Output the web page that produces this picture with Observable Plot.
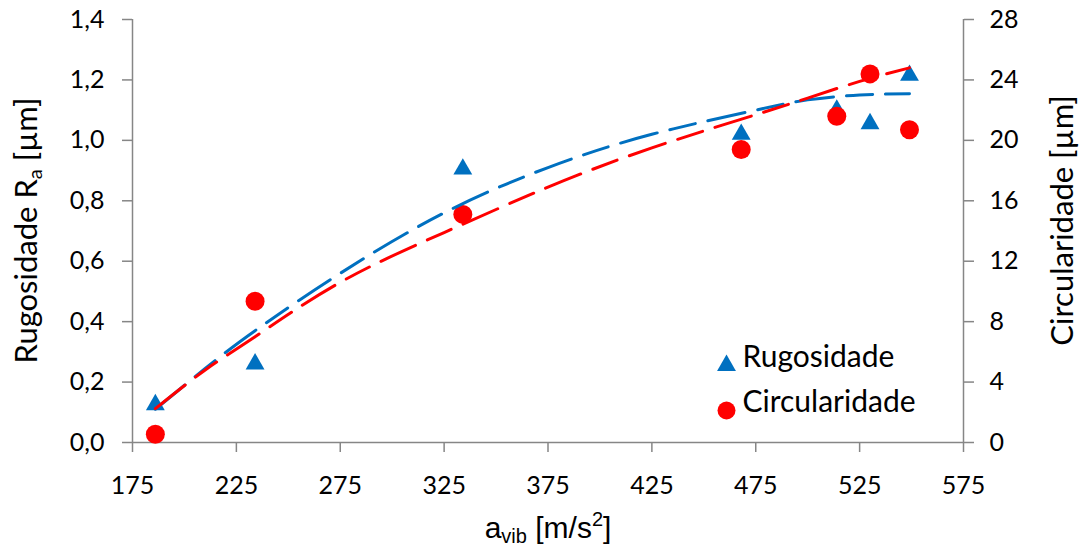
<!DOCTYPE html>
<html>
<head>
<meta charset="utf-8">
<script src="https://cdn.jsdelivr.net/npm/d3@7"></script>
<script src="https://cdn.jsdelivr.net/npm/@observablehq/plot@0.6"></script>
<style>
  html, body { margin: 0; padding: 0; background: #fff; }
  #chart svg { display: block; }
</style>
</head>
<body>
<div id="chart"></div>
<script>
// ---- data ----
const aVib = [186, 234, 334, 468, 514, 530, 549];
const rugosidade = [0.125, 0.26, 0.905, 1.02, 1.10, 1.055, 1.215];      // µm (left axis)
const circularidade = [0.55, 9.35, 15.1, 19.4, 21.6, 24.4, 20.7];       // µm (right axis)
const trendX = [186, 210, 234, 275, 325, 375, 425, 475, 500, 525, 549];
const trendRugosidade = [0.11, 0.245, 0.37, 0.56, 0.76, 0.91, 1.02, 1.10, 1.134, 1.15, 1.154];
const trendCircularidade = [2.24, 4.8, 7.0, 10.6, 13.9, 16.9, 19.5, 21.7, 22.8, 23.9, 24.8];
const xTicks = [175, 225, 275, 325, 375, 425, 475, 525, 575];
const leftTicks = [0, 0.2, 0.4, 0.6, 0.8, 1.0, 1.2, 1.4];
const rightTicks = [0, 4, 8, 12, 16, 20, 24, 28];
const seriesNames = ["Rugosidade", "Circularidade"];

const ratio = 28 / 1.4; // right axis / left axis
const blue = "#0070C0", red = "#FF0000", axisGray = "#868686";

const pts = aVib.map((x, i) => ({x, rug: rugosidade[i], circ: circularidade[i]}));
const trend = trendX.map((x, i) => ({x, rug: trendRugosidade[i], circ: trendCircularidade[i]}));

const W = 1085, H = 549;
const mL = 132, mR = 122, mT = 19, mB = 107;

const chart = Plot.plot({
  width: W, height: H,
  marginLeft: mL, marginRight: mR, marginTop: mT, marginBottom: mB,
  style: {fontFamily: "Lato, 'Open Sans', sans-serif", fontSize: "25px", color: "#000", background: "#fff"},
  x: {domain: [175, 575], label: null},
  y: {domain: [0, 1.4], label: null},
  marks: [
    Plot.ruleX([175, 575], {stroke: axisGray, strokeWidth: 1.5}),
    Plot.ruleY([0], {stroke: axisGray, strokeWidth: 1.5}),
    Plot.axisX(xTicks, {tickSize: 10, tickPadding: 24, stroke: axisGray, strokeWidth: 1.5, fill: "#000", label: null, tickFormat: d => String(d)}),
    Plot.axisY(leftTicks, {anchor: "left", tickSize: 10, tickPadding: 18, stroke: axisGray, strokeWidth: 1.5, fill: "#000", label: null,
      tickFormat: d => d.toFixed(1).replace(".", ",")}),
    Plot.axisY(rightTicks.map(d => d / ratio), {anchor: "right", tickSize: 10, tickPadding: 16, stroke: axisGray, strokeWidth: 1.5, fill: "#000", label: null,
      tickFormat: d => String(Math.round(d * ratio))}),
    Plot.dot(pts, {x: "x", y: "rug", symbol: "triangle", r: 7, fill: blue, stroke: null}),
    Plot.dot(pts, {x: "x", y: d => d.circ / ratio, symbol: "circle", r: 9.5, fill: red, stroke: null}),
    Plot.line(trend, {x: "x", y: "rug", curve: "natural", stroke: blue, strokeWidth: 3, strokeDasharray: "38 13 26 13"}),
    Plot.line(trend, {x: "x", y: d => d.circ / ratio, curve: "natural", stroke: red, strokeWidth: 3, strokeDasharray: "38 13 26 13"}),
    // legend
    Plot.dot([seriesNames[0]], {frameAnchor: "bottom-right", dx: -237, dy: -77, symbol: "triangle", r: 7, fill: blue}),
    Plot.dot([seriesNames[1]], {frameAnchor: "bottom-right", dx: -237, dy: -32, symbol: "circle", r: 9, fill: red}),
    Plot.text([seriesNames[0]], {text: d => d, frameAnchor: "bottom-right", dx: -221, dy: -76, textAnchor: "start", fontSize: 30, fill: "#000"}),
    Plot.text([seriesNames[1]], {text: d => d, frameAnchor: "bottom-right", dx: -221, dy: -31, textAnchor: "start", fontSize: 30, fill: "#000"})
  ]
});

document.getElementById("chart").appendChild(chart);

// axis titles (with sub/superscripts)
const svg = d3.select(chart);
const innerTop = mT, innerBottom = H - mB;

const lt = svg.append("text")
  .attr("transform", `translate(37, ${(innerTop + innerBottom) / 2}) rotate(-90)`)
  .attr("text-anchor", "middle")
  .style("font-family", "Lato, 'Open Sans', sans-serif")
  .style("font-size", "31px").attr("fill", "#000");
lt.append("tspan").text("Rugosidade R");
lt.append("tspan").attr("font-size", "20px").attr("dy", "5").text("a");
lt.append("tspan").attr("dy", "-5").text(" [µm]");

const rt = svg.append("text")
  .attr("transform", `translate(1073, ${(innerTop + innerBottom) / 2 - 10}) rotate(-90)`)
  .attr("text-anchor", "middle")
  .style("font-family", "Lato, 'Open Sans', sans-serif")
  .style("font-size", "31px").attr("fill", "#000");
rt.append("tspan").text("Circularidade [µm]");

const xt = svg.append("text")
  .attr("x", 548).attr("y", 538)
  .attr("text-anchor", "middle")
  .style("font-family", "'Liberation Sans Narrow', 'Liberation Sans', sans-serif")
  .style("font-size", "30px").attr("fill", "#000");
xt.append("tspan").text("a");
xt.append("tspan").attr("font-size", "20px").attr("dy", "5").text("vib");
xt.append("tspan").attr("dy", "-5").text(" [m/s");
xt.append("tspan").attr("font-size", "20px").attr("dy", "-12").text("2");
xt.append("tspan").attr("dy", "12").text("]");
</script>
</body>
</html>
